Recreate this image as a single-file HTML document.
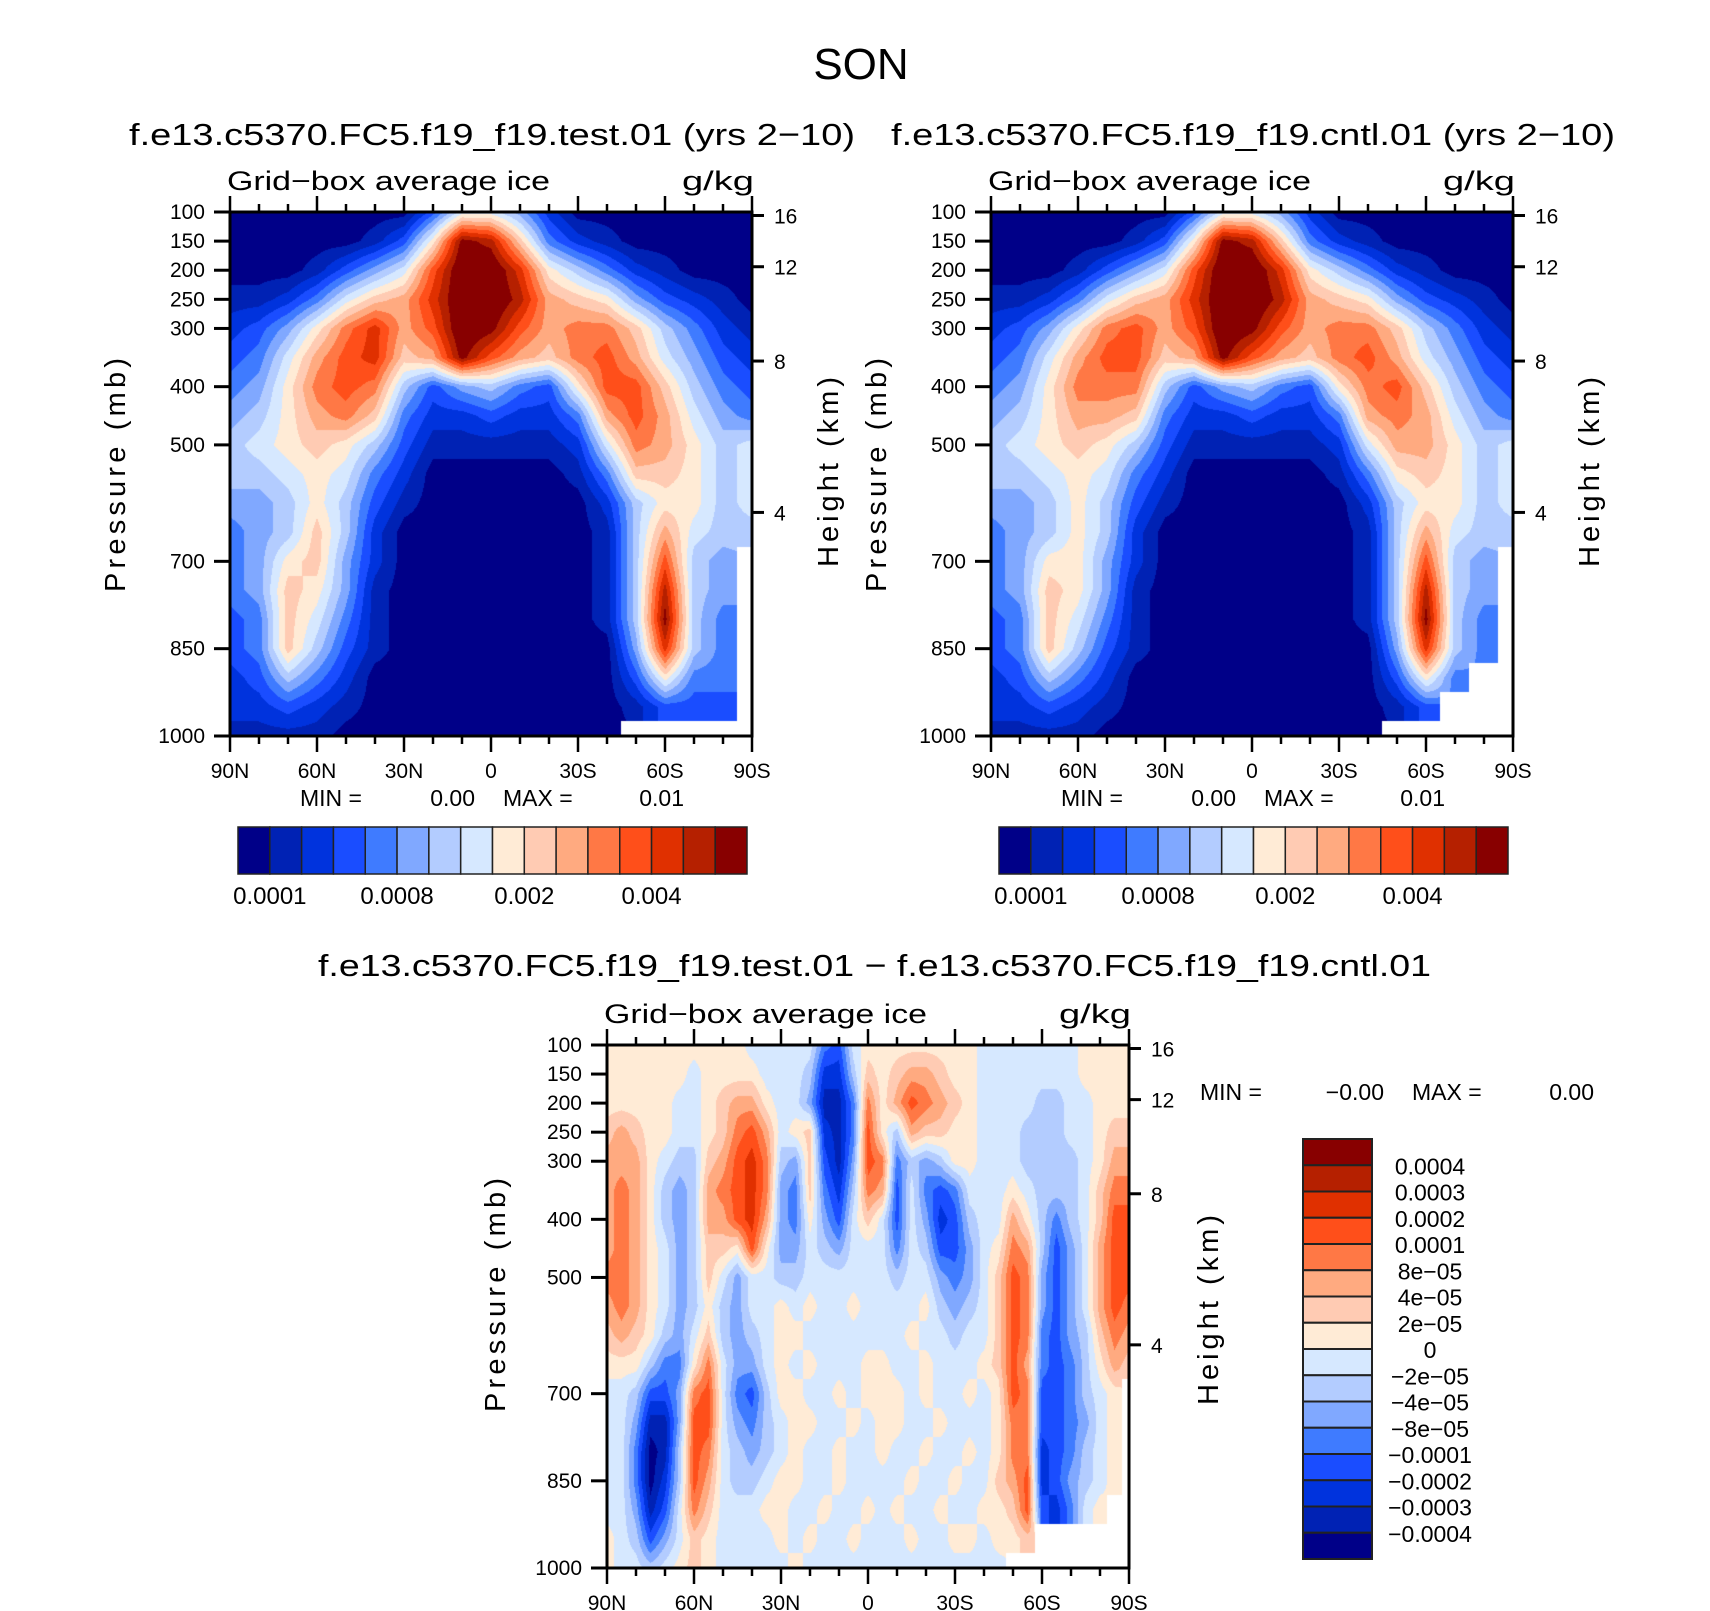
<!DOCTYPE html>
<html><head><meta charset="utf-8">
<style>
html,body{margin:0;padding:0;background:#fff;}
#wrap{position:relative;width:1710px;height:1611px;overflow:hidden;background:#fff;}
canvas{position:absolute;}
svg{position:absolute;left:0;top:0;}
text{font-family:"Liberation Sans","DejaVu Sans",sans-serif;fill:#000;}
</style></head>
<body>
<div id="wrap">
<canvas id="cv-test"></canvas>
<canvas id="cv-cntl"></canvas>
<canvas id="cv-diff"></canvas>
<svg id="svg" width="1710" height="1611" viewBox="0 0 1710 1611">
<text x="861" y="79" font-size="44" text-anchor="middle">SON</text>
<text x="129" y="145" font-size="31" textLength="726" lengthAdjust="spacingAndGlyphs">f.e13.c5370.FC5.f19_f19.test.01 (yrs 2−10)</text>
<text x="891" y="145" font-size="31" textLength="724" lengthAdjust="spacingAndGlyphs">f.e13.c5370.FC5.f19_f19.cntl.01 (yrs 2−10)</text>
<text x="318" y="976" font-size="31" textLength="1113" lengthAdjust="spacingAndGlyphs">f.e13.c5370.FC5.f19_f19.test.01 − f.e13.c5370.FC5.f19_f19.cntl.01</text>
</svg>
</div>
<script>
// ---- data ----
const palette = ["#000088","#0022b4","#0033dd","#1a4dff","#3f7bff","#80a8ff","#b3ccff","#d6e8ff","#ffebd6","#ffcbb3","#ffaa80","#ff7845","#ff4f1a","#e03000","#b52000","#880000"];
const pressureLevels = [100,150,200,250,300,350,400,450,500,550,600,650,700,750,800,850,900,950,1000];
const latsCoarse = [90,80,70,60,50,40,30,20,10,0,-10,-20,-30,-40,-50,-60,-70,-80,-90];
const latsFine = [90,85,80,75,70,65,60,55,50,45,40,35,30,25,20,15,10,5,0,-5,-10,-15,-20,-25,-30,-35,-40,-45,-50,-55,-60,-65,-70,-75,-80,-85,-90];
const pTicks = [100,150,200,250,300,400,500,700,850,1000];
const heightTicks = [4,8,12,16];
const heightTickP = [616,356,194,106];
const latTicks = [90,60,30,0,-30,-60,-90];
const latTickLabels = ["90N","60N","30N","0","30S","60S","90S"];
const absLevelLabels = ["0.0001","0.0008","0.002","0.004"];
const absLevelLabelIdx = [1,5,9,13];
const diffLevelLabels = ["0.0004","0.0003","0.0002","0.0001","8e−05","4e−05","2e−05","0","−2e−05","−4e−05","−8e−05","−0.0001","−0.0002","−0.0003","−0.0004"];

// level-index grids (rows = pressureLevels, cols = lats)
const testGrid = [
[0,0,0,0,0,0,0,3,7,7,5,2,0,0,0,0,0,0,0],
[0,0,0,0,0,1,3,8,15,14,9,4,2,1,0,0,0,0,0],
[0,0,0,1,3,5,7,12,16,16,13,8,6,4,2,1,0,0,0],
[1,1,2,4,7,9,10,13,16,16,14,10,9,8,5,3,2,1,0],
[2,3,5,8,11,13,10,12,16,15,12,10,11,11,9,6,4,2,1],
[3,4,7,10,12,13,9,10,15,12,10,9,11,12,10,7,5,3,2],
[4,5,8,11,12,11,6,3,5,6,4,3,8,12,12,9,6,4,3],
[5,6,8,10,11,9,4,2,2,3,2,2,4,10,12,10,7,5,4],
[6,7,8,9,8,6,3,1,1,1,1,1,2,7,11,10,8,6,7],
[6,6,7,8,7,4,2,0,0,0,0,0,1,4,9,9,8,6,7],
[5,5,6,8,6,3,1,0,0,0,0,0,0,2,6,8,8,6,7],
[4,5,6,9,6,2,0,0,0,0,0,0,0,1,6,10,7,6,6],
[4,5,8,9,5,2,0,0,0,0,0,0,0,1,6,12,6,5,null],
[4,5,9,8,5,1,0,0,0,0,0,0,0,1,6,14,6,5,null],
[3,4,9,7,4,1,0,0,0,0,0,0,0,1,6,15,6,4,null],
[3,4,9,6,3,1,0,0,0,0,0,0,0,0,5,13,6,4,null],
[2,3,6,4,2,0,0,0,0,0,0,0,0,0,3,8,4,4,null],
[2,2,3,2,1,0,0,0,0,0,0,0,0,0,1,3,3,3,null],
[1,1,1,1,0,0,0,0,0,0,0,0,0,0,null,null,null,null,null]
];
const cntlGrid = [
[0,0,0,0,0,0,0,3,7,7,5,2,0,0,0,0,0,0,0],
[0,0,0,0,0,1,3,8,15,14,9,4,2,1,0,0,0,0,0],
[0,0,0,1,3,5,7,12,16,16,13,8,6,4,2,1,0,0,0],
[1,1,2,4,7,9,10,13,16,16,14,10,9,8,5,3,2,1,0],
[2,3,5,8,11,12,10,12,16,15,12,10,11,11,9,6,4,2,1],
[3,4,7,10,12,12,9,10,15,12,10,9,11,12,10,7,5,3,2],
[4,5,8,11,11,11,6,3,5,6,4,3,8,11,12,9,6,4,3],
[5,6,8,10,10,9,4,2,2,3,2,2,4,10,11,10,7,5,4],
[6,7,8,9,8,6,3,1,1,1,1,1,2,7,10,10,8,6,7],
[6,6,7,8,7,4,2,0,0,0,0,0,1,4,8,9,8,6,7],
[5,5,6,8,6,3,1,0,0,0,0,0,0,2,6,8,8,6,7],
[4,5,6,8,6,2,0,0,0,0,0,0,0,1,6,10,7,6,6],
[4,5,8,8,5,2,0,0,0,0,0,0,0,1,6,12,6,5,null],
[4,5,9,8,5,1,0,0,0,0,0,0,0,1,6,14,6,5,null],
[3,4,9,7,4,1,0,0,0,0,0,0,0,1,6,15,6,4,null],
[3,4,9,6,3,1,0,0,0,0,0,0,0,0,5,13,6,4,null],
[2,3,6,4,2,0,0,0,0,0,0,0,0,0,3,8,4,null,null],
[2,2,3,2,1,0,0,0,0,0,0,0,0,0,1,3,null,null,null],
[1,1,1,1,0,0,0,0,0,0,0,0,0,0,null,null,null,null,null]
];
const diffGrid = [
[8,8,8,8,8,8,8,8,8,8,7,7,7,7,7,4,3,7,8,8,8,8,8,8,8,8,7,7,7,7,7,7,7,8,8,8,8],
[8,8,8,8,8,8,7,8,8,8,8,7,7,7,6,2,2,6,9,8,9,10,10,9,8,8,7,7,7,7,7,7,7,8,8,8,8],
[8,8,8,8,8,7,7,8,9,10,10,8,7,7,5,1,1,4,11,8,10,12,11,10,9,8,7,7,7,7,6,6,7,7,8,8,8],
[9,10,9,8,8,7,7,8,9,11,12,10,7,8,9,2,1,4,12,8,6,10,9,9,8,8,7,7,7,6,6,6,7,7,8,9,9],
[10,10,10,8,7,6,6,9,10,12,13,11,6,5,9,3,1,5,12,11,4,6,5,6,8,8,7,7,7,6,6,6,6,7,8,10,10],
[10,11,10,8,6,5,6,10,11,12,13,11,5,4,9,4,2,6,11,10,3,7,4,3,4,7,7,7,8,7,6,6,6,7,9,11,11],
[10,11,10,8,6,5,6,10,10,12,13,10,5,4,8,5,3,7,9,7,3,7,5,2,3,6,7,7,10,8,6,4,6,7,9,12,12],
[10,11,10,8,7,5,6,9,9,8,12,8,5,5,7,6,5,7,7,7,4,7,6,3,3,5,7,8,11,10,6,3,5,7,10,12,12],
[11,11,10,8,7,5,6,9,7,5,7,7,6,6,7,7,7,7,7,7,6,7,7,5,4,5,7,9,12,11,5,3,5,7,10,12,12],
[10,11,10,8,7,5,6,8,6,5,7,7,8,7,8,7,7,8,7,7,7,7,8,6,5,6,7,9,12,11,5,3,5,7,10,12,11],
[9,10,9,8,6,5,7,9,6,5,6,7,8,8,7,7,7,7,7,7,7,8,7,7,6,7,7,9,12,11,4,3,5,6,9,11,10],
[8,8,8,6,4,4,8,11,7,5,5,7,8,7,8,7,7,7,8,8,7,7,8,7,7,7,8,9,12,10,4,3,4,6,8,10,9],
[7,7,6,3,3,5,11,12,7,4,3,6,8,8,7,7,8,7,8,8,8,7,8,7,7,8,7,8,12,11,3,3,4,6,7,8,null],
[7,7,5,1,1,5,12,12,7,5,4,6,7,8,8,7,7,8,7,8,8,7,7,8,7,7,7,8,11,11,3,3,4,5,7,8,null],
[7,7,4,0,1,6,12,11,7,6,5,6,7,8,7,7,8,7,7,8,7,7,8,7,7,8,7,8,11,11,2,3,4,6,7,8,null],
[7,7,4,0,2,6,12,10,7,6,6,7,8,8,7,7,8,7,7,7,7,8,7,7,8,7,7,9,10,12,2,3,5,6,7,8,null],
[7,7,5,1,3,7,11,9,7,7,7,8,8,7,7,8,7,7,8,7,8,7,7,8,7,7,8,8,9,12,3,2,4,7,8,null,null],
[8,7,6,3,5,7,9,8,7,7,7,7,8,7,8,7,7,8,7,7,7,8,7,7,8,8,7,8,8,9,null,null,null,null,null,null,null],
[8,7,7,6,7,8,9,8,7,7,7,7,7,8,7,7,7,7,7,7,7,7,7,7,7,7,7,7,null,null,null,null,null,null,null,null,null]
];

// ---- rendering ----
const svgNS = "http://www.w3.org/2000/svg";
const svg = document.getElementById("svg");
function hexToRgb(h){return [parseInt(h.substr(1,2),16),parseInt(h.substr(3,2),16),parseInt(h.substr(5,2),16)];}
const rgbPal = palette.map(hexToRgb);

function makeX(p){return lat => p.x0 + (90-lat)/180*(p.x1-p.x0);}
function makeY(p){return pr => p.y0 + (pr-100)/900*(p.y1-p.y0);}

function drawField(p){
  const cv = document.getElementById(p.canvas);
  const w = p.x1-p.x0, h = p.y1-p.y0;
  cv.width = w; cv.height = h;
  cv.style.left = p.x0+"px"; cv.style.top = p.y0+"px";
  const ctx = cv.getContext("2d");
  const img = ctx.createImageData(w,h);
  const g = p.grid, lats = p.lats;
  const nr = g.length, nc = g[0].length;
  const latStep = (lats[0]-lats[nc-1])/(nc-1);
  const pStep = (pressureLevels[nr-1]-pressureLevels[0])/(nr-1);
  for(let py=0; py<h; py++){
    const pr = 100 + (py+0.5)/h*900;
    const fy = (pr-pressureLevels[0])/pStep;
    const r0 = Math.min(nr-2, Math.floor(fy)), ty = fy-r0;
    for(let px=0; px<w; px++){
      const lat = 90 - (px+0.5)/w*180;
      const fx = (lats[0]-lat)/latStep;
      const c0 = Math.min(nc-2, Math.floor(fx)), tx = fx-c0;
      const nrI = Math.round(fy), ncI = Math.round(fx);
      const o = (py*w+px)*4;
      if(g[nrI][ncI]===null){img.data[o]=255;img.data[o+1]=255;img.data[o+2]=255;img.data[o+3]=255;continue;}
      let s=0, ws=0;
      const cs=[[r0,c0,(1-ty)*(1-tx)],[r0,c0+1,(1-ty)*tx],[r0+1,c0,ty*(1-tx)],[r0+1,c0+1,ty*tx]];
      for(const [r,c,wt] of cs){const v=g[r][c]; if(v!==null){s+=v*wt; ws+=wt;}}
      let v = ws>0? s/ws : 0;
      let k = Math.round(v); if(k<0)k=0; if(k>15)k=15;
      const col = rgbPal[k];
      img.data[o]=col[0];img.data[o+1]=col[1];img.data[o+2]=col[2];img.data[o+3]=255;
    }
  }
  ctx.putImageData(img,0,0);
}

function line(x1,y1,x2,y2,sw,name){
  const el = document.createElementNS(svgNS,"line");
  el.setAttribute("x1",x1);el.setAttribute("y1",y1);el.setAttribute("x2",x2);el.setAttribute("y2",y2);
  el.setAttribute("stroke","#000");el.setAttribute("stroke-width",sw);
  
  
  svg.appendChild(el);
  return el;
}
function text(x,y,str,size,anchor,name){
  const el = document.createElementNS(svgNS,"text");
  el.setAttribute("x",x);el.setAttribute("y",y);el.setAttribute("font-size",size);
  el.setAttribute("text-anchor",anchor);
  el.textContent = str;
  
  
  svg.appendChild(el);
  return el;
}

function drawAxes(p){
  const X = makeX(p), Y = makeY(p);
  const fr = document.createElementNS(svgNS,"rect");
  fr.setAttribute("x",p.x0);fr.setAttribute("y",p.y0);fr.setAttribute("width",p.x1-p.x0);fr.setAttribute("height",p.y1-p.y0);
  fr.setAttribute("fill","none");fr.setAttribute("stroke","#000");fr.setAttribute("stroke-width",3);
  
  
  svg.appendChild(fr);
  pTicks.forEach(pr=>{
    const y = Y(pr);
    line(p.x0-16,y,p.x0,y,3,p.key+'-pressure-tick');
    text(p.x0-25,y+7,String(pr),21,"end",p.key+'-pressure-tick-label');
  });
  heightTicks.forEach((hk,i)=>{
    const y = Y(heightTickP[i]);
    line(p.x1,y,p.x1+12,y,3,p.key+'-height-tick');
    text(p.x1+22,y+8,String(hk),21,"start",p.key+'-height-tick-label');
  });
  for(let lat=90; lat>=-90; lat-=10){
    const x = X(lat);
    const major = (lat%30===0);
    const L = major?16:8;
    line(x,p.y0-L,x,p.y0,2.5,p.key+'-top-lat-tick');
    line(x,p.y1,x,p.y1+L,2.5,p.key+'-bottom-lat-tick');
  }
  latTicks.forEach((lat,i)=>{
    text(X(lat),p.y1+42,latTickLabels[i],21,"middle",p.key+'-lat-tick-label');
  });
  const pt = text(0,0,"Pressure (mb)",29,"middle",p.key+'-y-axis-title');
  pt.setAttribute("transform",`translate(${p.px},${p.py}) rotate(-90)`);
  pt.setAttribute("textLength",236);pt.setAttribute("letter-spacing","2");
  const ht = text(0,0,"Height (km)",29,"middle",p.key+'-right-axis-title');
  ht.setAttribute("transform",`translate(${p.hx},${p.hy}) rotate(-90)`);
  ht.setAttribute("textLength",190);
  const lt = text(p.x0-3,p.y0-22,"Grid−box average ice",27,"start",p.key+'-variable-label');
  lt.setAttribute("textLength",323);lt.setAttribute("lengthAdjust","spacingAndGlyphs");
  const ut = text(p.x1+2,p.y0-22,"g/kg",27,"end",p.key+'-units-label');
  ut.setAttribute("textLength",72);ut.setAttribute("lengthAdjust","spacingAndGlyphs");
}

const panels = [
 {key:"test",canvas:"cv-test",grid:testGrid,lats:latsCoarse,x0:230,x1:752,y0:212,y1:736,px:125,py:474,hx:838,hy:472},
 {key:"cntl",canvas:"cv-cntl",grid:cntlGrid,lats:latsCoarse,x0:991,x1:1513,y0:212,y1:736,px:886,py:474,hx:1599,hy:472},
 {key:"diff",canvas:"cv-diff",grid:diffGrid,lats:latsFine,x0:607,x1:1129,y0:1045,y1:1568,px:505,py:1294,hx:1218,hy:1310}
];
panels.forEach(p=>{drawField(p);drawAxes(p);});

[[0,"0.00","0.01","test"],[761,"0.00","0.01","cntl"]].forEach(([dx,mn,mx,k])=>{
  text(300+dx,806,"MIN =",23,"start",k+'-min-label');
  text(475+dx,806,mn,23,"end",k+'-min-value');
  text(503+dx,806,"MAX =",23,"start",k+'-max-label');
  text(684+dx,806,mx,23,"end",k+'-max-value');
});
text(1200,1100,"MIN =",23,"start",'diff-min-label');
text(1384,1100,"−0.00",23,"end",'diff-min-value');
text(1412,1100,"MAX =",23,"start",'diff-max-label');
text(1594,1100,"0.00",23,"end",'diff-max-value');

[[238,"test"],[999,"cntl"]].forEach(([x0,k])=>{
  const w = 509/16;
  palette.forEach((c,i)=>{
    const r = document.createElementNS(svgNS,"rect");
    r.setAttribute("x",x0+i*w);r.setAttribute("y",827);r.setAttribute("width",w);r.setAttribute("height",47);
    r.setAttribute("fill",c);r.setAttribute("stroke","#222");r.setAttribute("stroke-width",1.5);
    
    
    svg.appendChild(r);
  });
  absLevelLabels.forEach((s,j)=>{
    text(x0+absLevelLabelIdx[j]*w,904,s,24,"middle",k+'-colorbar-label');
  });
});
(function(){
  const x0=1303,y0=1139,w=69,h=420/16;
  palette.slice().reverse().forEach((c,i)=>{
    const r = document.createElementNS(svgNS,"rect");
    r.setAttribute("x",x0);r.setAttribute("y",y0+i*h);r.setAttribute("width",w);r.setAttribute("height",h);
    r.setAttribute("fill",c);r.setAttribute("stroke","#222");r.setAttribute("stroke-width",2);
    
    
    svg.appendChild(r);
  });
  diffLevelLabels.forEach((s,i)=>{
    text(1430,y0+(i+1)*h+9,s,23,"middle",'diff-colorbar-label');
  });
})();
</script>
</body></html>
